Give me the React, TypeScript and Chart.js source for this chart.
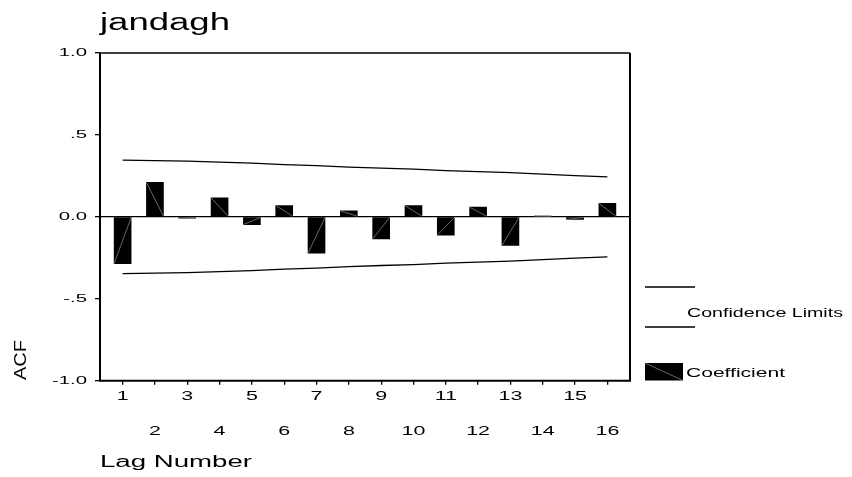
import React, { useEffect, useRef } from "react";
import { Chart, registerables } from "chart.js";

Chart.register(...registerables);

const chartTitle = "jandagh";
const lags = [1, 2, 3, 4, 5, 6, 7, 8, 9, 10, 11, 12, 13, 14, 15, 16];
const acf = [-0.285, 0.21, -0.008, 0.116, -0.047, 0.069, -0.222, 0.037, -0.134, 0.069, -0.112, 0.059, -0.175, 0.005, -0.016, 0.083];
const upperLimit = [0.346, 0.343, 0.34, 0.334, 0.328, 0.319, 0.313, 0.304, 0.297, 0.291, 0.282, 0.276, 0.27, 0.261, 0.252, 0.244];
const lowerLimit = [-0.346, -0.343, -0.34, -0.334, -0.328, -0.319, -0.313, -0.304, -0.297, -0.291, -0.282, -0.276, -0.27, -0.261, -0.252, -0.244];
const yTicks = [1, 0.5, 0, -0.5, -1];
const yTickLabels = ["1.0", ".5", "0.0", "-.5", "-1.0"];
const yAxisTitle = "ACF";
const xAxisTitle = "Lag Number";
const legendLimits = "Confidence Limits";
const legendCoef = "Coefficient";

const FONT = '"Liberation Sans", Arial, sans-serif';

function drawText(
  ctx: CanvasRenderingContext2D,
  s: string,
  x: number,
  y: number,
  size: number,
  o: { align?: CanvasTextAlign; baseline?: CanvasTextBaseline; sx?: number; width?: number; rotate?: boolean; sy?: number }
) {
  ctx.save();
  ctx.font = `${size}px ${FONT}`;
  ctx.fillStyle = "#000";
  const w = ctx.measureText(s).width;
  const sx = o.width ? o.width / w : o.sx ?? 1;
  ctx.translate(x, y);
  if (o.rotate) ctx.rotate(-Math.PI / 2);
  ctx.scale(sx, o.sy ?? 1);
  ctx.textAlign = o.align ?? "left";
  ctx.textBaseline = o.baseline ?? "alphabetic";
  ctx.fillText(s, 0, 0);
  ctx.restore();
}

const decorPlugin = {
  id: "decor",
  afterDatasetsDraw(chart: any) {
    const ctx = chart.ctx as CanvasRenderingContext2D;
    const meta = chart.getDatasetMeta(0);
    ctx.save();
    ctx.strokeStyle = "#808080";
    ctx.lineWidth = 0.8;
    meta.data.forEach((el: any) => {
      const l = el.x - el.width / 2;
      const r = el.x + el.width / 2;
      ctx.beginPath();
      ctx.moveTo(l, el.y);
      ctx.lineTo(r, el.base);
      ctx.stroke();
    });
    ctx.restore();
  },
  afterDraw(chart: any) {
    const ctx = chart.ctx as CanvasRenderingContext2D;
    const a = chart.chartArea;
    const xs = chart.scales.x;
    const ys = chart.scales.y;
    ctx.save();
    ctx.strokeStyle = "#000";
    ctx.lineWidth = 2;
    ctx.beginPath();
    ctx.moveTo(a.left, a.top);
    ctx.lineTo(a.left, a.bottom);
    ctx.lineTo(a.right, a.bottom);
    ctx.lineTo(a.right, a.top);
    ctx.stroke();
    ctx.lineWidth = 1.5;
    ctx.beginPath();
    ctx.moveTo(a.left, a.top);
    ctx.lineTo(a.right, a.top);
    ctx.stroke();
    ctx.restore();

    // title
    drawText(ctx, chartTitle, 100, 30, 23, { width: 130 });
    // y tick labels
    yTicks.forEach((v, i) => {
      drawText(ctx, yTickLabels[i], 87, ys.getPixelForValue(v), 11, { align: "right", baseline: "middle", sx: 1.85 });
    });
    // x tick labels
    lags.forEach((v) => {
      const px = xs.getPixelForValue(v);
      const py = v % 2 === 1 ? 396 : 431;
      drawText(ctx, String(v), px, py, 13, { align: "center", baseline: "middle", sx: 1.65 });
    });
    // axis titles
    drawText(ctx, yAxisTitle, 26, 380, 12, { rotate: true, width: 40, sy: 1.4, align: "left", baseline: "alphabetic" });
    drawText(ctx, xAxisTitle, 100, 467, 16, { width: 152 });

    // legend
    ctx.save();
    ctx.strokeStyle = "#000";
    ctx.lineWidth = 1.3;
    ctx.beginPath();
    ctx.moveTo(645, 287);
    ctx.lineTo(695, 287);
    ctx.moveTo(645, 327);
    ctx.lineTo(695, 327);
    ctx.stroke();
    ctx.fillStyle = "#000";
    ctx.fillRect(645, 363, 38, 17.5);
    ctx.strokeStyle = "#808080";
    ctx.lineWidth = 0.8;
    ctx.beginPath();
    ctx.moveTo(645, 363);
    ctx.lineTo(683, 380.5);
    ctx.stroke();
    ctx.restore();
    drawText(ctx, legendLimits, 687, 313, 13, { width: 156, baseline: "middle" });
    drawText(ctx, legendCoef, 686, 373, 13, { width: 99, baseline: "middle" });
  },
};

export default function App() {
  const ref = useRef<HTMLCanvasElement | null>(null);
  useEffect(() => {
    if (!ref.current) return;
    const chart = new Chart(ref.current, {
      type: "bar",
      data: {
        datasets: [
          {
            type: "bar",
            label: legendCoef,
            data: lags.map((l, i) => ({ x: l, y: acf[i] })),
            backgroundColor: "#000",
            borderWidth: 0,
            barThickness: 17,
            order: 2,
          } as any,
          {
            type: "line",
            label: legendLimits,
            data: lags.map((l, i) => ({ x: l, y: upperLimit[i] })),
            borderColor: "#000",
            borderWidth: 1.3,
            pointRadius: 0,
            tension: 0,
            fill: false,
            order: 1,
          } as any,
          {
            type: "line",
            label: legendLimits,
            data: lags.map((l, i) => ({ x: l, y: lowerLimit[i] })),
            borderColor: "#000",
            borderWidth: 1.3,
            pointRadius: 0,
            tension: 0,
            fill: false,
            order: 1,
          } as any,
        ],
      },
      options: {
        responsive: false,
        animation: false,
        devicePixelRatio: 1,
        layout: { padding: { left: 0, top: 53, right: 222, bottom: 0 } },
        plugins: { legend: { display: false }, title: { display: false }, tooltip: { enabled: false } },
        scales: {
          x: {
            type: "linear",
            min: 0.3,
            max: 16.7,
            offset: false,
            afterBuildTicks: (s: any) => {
              s.ticks = lags.map((v) => ({ value: v }));
            },
            afterFit: (s: any) => {
              s.height = 477 - 380.7;
            },
            ticks: { display: false },
            grid: { offset: false, drawOnChartArea: false, drawTicks: true, tickLength: 4, color: "#000", tickColor: "#000", lineWidth: 1.3 },
            border: { display: false },
          },
          y: {
            type: "linear",
            min: -1,
            max: 1,
            afterBuildTicks: (s: any) => {
              s.ticks = yTicks.map((v) => ({ value: v }));
            },
            afterFit: (s: any) => {
              s.width = 100;
            },
            ticks: { display: false },
            grid: {
              drawTicks: true,
              tickLength: 5,
              color: (c: any) => (c.tick && c.tick.value === 0 ? "#000" : "rgba(0,0,0,0)"),
              tickColor: "#000",
              lineWidth: 1.3,
            },
            border: { display: false },
          },
        },
      } as any,
      plugins: [decorPlugin],
    });
    return () => chart.destroy();
  }, []);
  return (
    <div style={{ position: "fixed", left: 0, top: 0, width: 852, height: 477, background: "#fff" }}>
      <canvas ref={ref} width={852} height={477} />
    </div>
  );
}
